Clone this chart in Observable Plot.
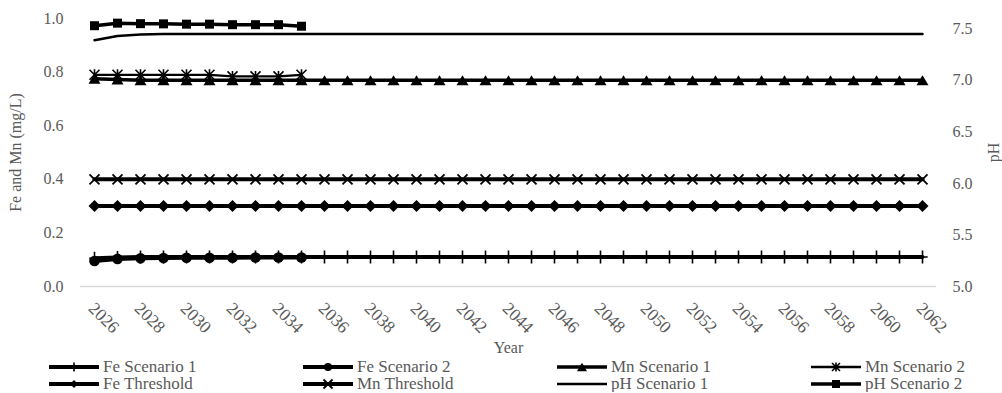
<!DOCTYPE html>
<html><head><meta charset="utf-8">
<script src="https://cdn.jsdelivr.net/npm/d3@7"></script>
<script src="https://cdn.jsdelivr.net/npm/@observablehq/plot@0.6"></script>
</head><body style="margin:0;background:#fff;font-family:'Liberation Serif',serif;">
<div id="chart"></div><div id="legend"></div>
<script>
// ---- data ----
const years = [2026,2027,2028,2029,2030,2031,2032,2033,2034,2035,2036,2037,2038,2039,2040,2041,2042,2043,2044,2045,2046,2047,2048,2049,2050,2051,2052,2053,2054,2055,2056,2057,2058,2059,2060,2061,2062];
const xTickYears = [2026,2028,2030,2032,2034,2036,2038,2040,2042,2044,2046,2048,2050,2052,2054,2056,2058,2060,2062];
const leftTicks = [0.0,0.2,0.4,0.6,0.8,1.0];
const pHTicks = [5.0,5.5,6.0,6.5,7.0,7.5];
const pHDomain = [5.0,7.6];

const feScenario1 = [0.105,0.108,0.11,0.11,0.11,0.11,0.11,0.11,0.11,0.11,0.11,0.11,0.11,0.11,0.11,0.11,0.11,0.11,0.11,0.11,0.11,0.11,0.11,0.11,0.11,0.11,0.11,0.11,0.11,0.11,0.11,0.11,0.11,0.11,0.11,0.11,0.11];
const feScenario2 = [0.095,0.103,0.105,0.106,0.107,0.107,0.107,0.108,0.108,0.108];
const mnScenario1 = [0.775,0.772,0.77,0.77,0.77,0.77,0.77,0.77,0.77,0.77,0.77,0.77,0.77,0.77,0.77,0.77,0.77,0.77,0.77,0.77,0.77,0.77,0.77,0.77,0.77,0.77,0.77,0.77,0.77,0.77,0.77,0.77,0.77,0.77,0.77,0.77,0.77];
const mnScenario2 = [0.79,0.79,0.79,0.79,0.79,0.79,0.784,0.784,0.784,0.79];
const feThreshold = [0.3,0.3,0.3,0.3,0.3,0.3,0.3,0.3,0.3,0.3,0.3,0.3,0.3,0.3,0.3,0.3,0.3,0.3,0.3,0.3,0.3,0.3,0.3,0.3,0.3,0.3,0.3,0.3,0.3,0.3,0.3,0.3,0.3,0.3,0.3,0.3,0.3];
const mnThreshold = [0.4,0.4,0.4,0.4,0.4,0.4,0.4,0.4,0.4,0.4,0.4,0.4,0.4,0.4,0.4,0.4,0.4,0.4,0.4,0.4,0.4,0.4,0.4,0.4,0.4,0.4,0.4,0.4,0.4,0.4,0.4,0.4,0.4,0.4,0.4,0.4,0.4];
const phScenario1 = [7.39,7.43,7.445,7.45,7.45,7.45,7.45,7.45,7.45,7.45,7.45,7.45,7.45,7.45,7.45,7.45,7.45,7.45,7.45,7.45,7.45,7.45,7.45,7.45,7.45,7.45,7.45,7.45,7.45,7.45,7.45,7.45,7.45,7.45,7.45,7.45,7.45];
const phScenario2 = [7.53,7.555,7.55,7.548,7.545,7.545,7.54,7.54,7.54,7.525];

// ---- custom marker symbols (half-size = r) ----
const R = s => Math.sqrt(s / Math.PI);
const plusSym = {draw(c, s){const r=R(s); c.moveTo(0,-r); c.lineTo(0,r); c.moveTo(-r*0.8,0); c.lineTo(r*0.8,0);}};
const timesSym = {draw(c, s){const r=R(s); c.moveTo(-r,-r); c.lineTo(r,r); c.moveTo(r,-r); c.lineTo(-r,r);}};
const asteriskSym = {draw(c, s){const r=R(s); c.moveTo(-r,-r); c.lineTo(r,r); c.moveTo(r,-r); c.lineTo(-r,r); c.moveTo(0,-r*1.1); c.lineTo(0,r*1.1);}};
const diamondSym = {draw(c, s){const r=R(s); c.moveTo(0,-r); c.lineTo(r,0); c.lineTo(0,r); c.lineTo(-r,0); c.closePath();}};
const squareSym = {draw(c, s){const r=R(s); c.rect(-r,-r,2*r,2*r);}};
const triangleSym = {draw(c, s){const r=R(s); c.moveTo(0,-r); c.lineTo(1.2*r,r); c.lineTo(-1.2*r,r); c.closePath();}};
const circleSym = {draw(c, s){const r=R(s); c.moveTo(r,0); c.arc(0,0,r,0,2*Math.PI);}};

const series = [
  {name:"Fe Scenario 1", values:feScenario1, ph:false, sw:4,   sym:plusSym,     r:6.5, filled:false, msw:1.6, lr:4.5},
  {name:"Fe Scenario 2", values:feScenario2, ph:false, sw:4,   sym:circleSym,   r:5.3, filled:true,  msw:0,   lr:4},
  {name:"Mn Scenario 1", values:mnScenario1, ph:false, sw:3.5, sym:triangleSym, r:5,   filled:true,  msw:0,   lr:4.2},
  {name:"Mn Scenario 2", values:mnScenario2, ph:false, sw:2.3, sym:asteriskSym, r:5,   filled:false, msw:1.6, lr:4},
  {name:"Fe Threshold",  values:feThreshold, ph:false, sw:4,   sym:diamondSym,  r:6,   filled:true,  msw:0,   lr:4},
  {name:"Mn Threshold",  values:mnThreshold, ph:false, sw:4,   sym:timesSym,    r:5,   filled:false, msw:1.8, lr:4.5},
  {name:"pH Scenario 1", values:phScenario1, ph:true,  sw:2.5, sym:null},
  {name:"pH Scenario 2", values:phScenario2, ph:true,  sw:3.5, sym:squareSym,   r:4.5, filled:true,  msw:0,   lr:4}
];

const toLeft = p => (p - pHDomain[0]) / (pHDomain[1] - pHDomain[0]);
const fromLeft = v => pHDomain[0] + v * (pHDomain[1] - pHDomain[0]);

const marks = [
  Plot.ruleY([0], {stroke:"#d9d9d9", strokeWidth:1.3}),
  Plot.axisY(leftTicks, {anchor:"left", tickSize:0, tickPadding:17, tickFormat:d=>d.toFixed(1), label:"Fe and Mn (mg/L)", labelArrow:"none", labelAnchor:"center", labelOffset:71}),
  Plot.axisY(pHTicks.map(toLeft), {anchor:"right", tickSize:0, tickPadding:16, tickFormat:d=>fromLeft(d).toFixed(1), label:"pH", labelArrow:"none", labelAnchor:"center", labelOffset:62}),
  Plot.axisX(xTickYears, {tickRotate:45, tickSize:0, tickPadding:19, dx:-3, fontSize:17.5, tickFormat:d=>String(d), label:null}),
  Plot.axisX({ticks:[], tickSize:0, label:"Year", labelArrow:"none", labelAnchor:"center", labelOffset:66})
];
for (const s of series) {
  const data = s.values.map((v,i)=>({year:years[i], v: s.ph ? toLeft(v) : v}));
  marks.push(Plot.line(data, {x:"year", y:"v", stroke:"#000", strokeWidth:s.sw}));
  if (s.sym) marks.push(Plot.dot(data, {x:"year", y:"v", symbol:s.sym, r:s.r,
    fill: s.filled ? "#000" : "none", stroke:"#000", strokeWidth: s.filled ? 0 : s.msw}));
}

const chart = Plot.plot({
  width:1002, height:356,
  marginLeft:80, marginRight:66, marginTop:18, marginBottom:70,
  x:{type:"point", domain:years, padding:0.5},
  y:{domain:[0,1]},
  style:{fontFamily:"'Liberation Serif', serif", fontSize:"16px", color:"#595959", background:"#fff", overflow:"visible"},
  marks
});
chart.style.display = "block";
document.getElementById("chart").appendChild(chart);

// ---- legend ----
const legendOrder = ["Fe Scenario 1","Fe Scenario 2","Mn Scenario 1","Mn Scenario 2","Fe Threshold","Mn Threshold","pH Scenario 1","pH Scenario 2"];
const leg = d3.select("#legend")
  .style("display","grid").style("grid-template-columns","repeat(4, 254px)")
  .style("padding-left","49px").style("margin-top","2px")
  .style("font-family","'Liberation Serif', serif");
for (const nm of legendOrder) {
  const s = series.find(d=>d.name===nm);
  const it = leg.append("div")
    .style("display","flex").style("align-items","center").style("height","17px")
    .style("font-family","'Liberation Serif', serif").style("font-size","17px")
    .style("color","#595959").style("white-space","nowrap");
  const sv = it.append("svg").attr("width",50).attr("height",16).style("margin-right","4px").style("flex","none");
  sv.append("line").attr("x1",0).attr("x2",50).attr("y1",8).attr("y2",8).attr("stroke","#000").attr("stroke-width",s.sw);
  if (s.sym) {
    const p = d3.path(); s.sym.draw(p, Math.PI*s.lr*s.lr);
    sv.append("path").attr("transform","translate(25,8)").attr("d",p.toString())
      .attr("fill", s.filled ? "#000" : "none").attr("stroke", s.filled ? "none" : "#000").attr("stroke-width", s.msw);
  }
  it.append("span").style("font-family","'Liberation Serif', serif").text(nm);
}
</script>
</body></html>
